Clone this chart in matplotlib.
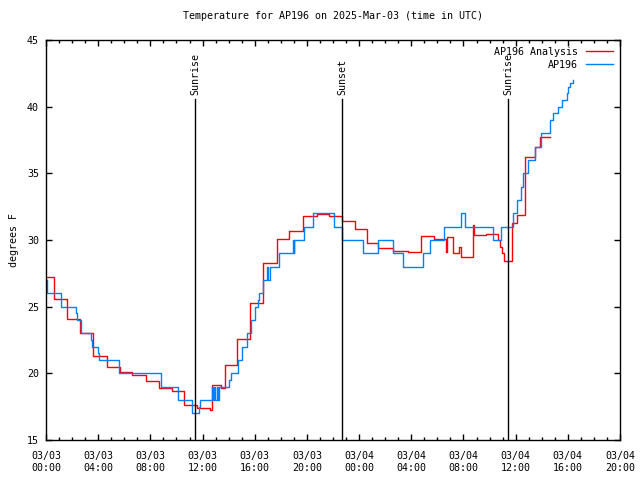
import pandas as pd
import matplotlib
matplotlib.use('Agg')
import matplotlib.pyplot as plt
import matplotlib.dates as mdates

# hours after 2025-03-03 00:00 UTC where each step begins
analysis_hours = [0.05, 0.64, 1.63, 2.63, 3.62, 4.65, 5.67, 6.61, 7.66, 8.66,
                  9.68, 10.6, 11.55, 12.6, 12.74, 13.43, 13.72, 14.66, 15.66, 16.65,
                  17.72, 18.64, 19.72, 20.74, 21.71, 22.66, 23.65, 24.62, 25.42, 26.61,
                  27.72, 28.71, 29.73, 30.65, 30.75, 31.21, 31.67, 31.78, 32.7, 32.8,
                  33.72, 34.66, 34.8, 34.95, 35.1, 35.69, 35.74, 36.07, 36.68, 37.52,
                  37.85, 38.67]
analysis_temp = [27.2, 25.55, 24.1, 23.0, 21.3, 20.5, 20.1, 19.9, 19.4, 18.9,
                 18.65, 17.6, 17.4, 17.25, 19.1, 18.9, 20.6, 22.6, 25.25, 28.3,
                 30.1, 30.7, 31.8, 31.95, 31.8, 31.4, 30.8, 29.75, 29.4, 29.2,
                 29.1, 30.3, 30.05, 29.1, 30.2, 29.05, 29.5, 28.75, 31.1, 30.4,
                 30.45, 30.0, 29.5, 29.0, 28.4, 30.0, 31.3, 31.9, 36.2, 37.0,
                 37.7, 37.7]

station_hours = [0.05, 0.11, 1.13, 2.28, 2.35, 2.66, 3.43, 3.52, 3.95, 4.04,
                 5.62, 8.79, 10.14, 11.16, 11.7, 11.8, 12.7, 12.8, 12.87, 12.99,
                 13.07, 13.18, 13.26, 14.02, 14.18, 14.74, 15.0, 15.38, 15.69, 16.02,
                 16.25, 16.36, 16.61, 16.95, 17.05, 17.16, 17.88, 18.95, 19.0, 19.03,
                 19.79, 20.48, 22.09, 22.66, 24.31, 25.42, 26.57, 27.38, 28.87, 29.43,
                 30.52, 31.78, 32.11, 34.23, 34.87, 35.76, 36.14, 36.4, 36.57, 36.95,
                 37.52, 37.91, 38.62, 38.9, 39.26, 39.55, 39.9, 40.05, 40.2, 40.36,
                 40.42]
station_temp = [27.0, 26.0, 25.0, 24.5, 24.0, 23.0, 22.5, 22.0, 21.5, 21.0,
                20.0, 19.0, 18.0, 17.0, 17.5, 18.0, 19.0, 18.0, 19.0, 18.0,
                19.0, 18.0, 19.0, 19.5, 20.0, 21.0, 22.0, 23.0, 24.0, 25.0,
                25.5, 26.0, 27.0, 28.0, 27.0, 28.0, 29.0, 30.0, 29.0, 30.0,
                31.0, 32.0, 31.0, 30.0, 29.0, 30.0, 29.0, 28.0, 29.0, 30.0,
                31.0, 32.0, 31.0, 30.0, 31.0, 32.0, 33.0, 34.0, 35.0, 36.0,
                37.0, 38.0, 39.0, 39.5, 40.0, 40.5, 41.0, 41.5, 41.8, 42.0,
                42.0]

sun_hours = [11.44, 22.71, 35.43]
sun_labels = ['Sunrise', 'Sunset', 'Sunrise']

base = pd.Timestamp('2025-03-03 00:00')


def to_time(hours):
    return base + pd.to_timedelta(hours, unit='h')


plt.rcParams['font.family'] = 'DejaVu Sans Mono'
plt.rcParams['font.size'] = 7.2

fig = plt.figure(figsize=(6.4, 4.8), dpi=100)
ax = fig.add_axes([46 / 640, 40 / 480, 574 / 640, 400 / 480])

ax.plot(to_time(analysis_hours), analysis_temp, drawstyle='steps-post',
        color='#ff0000', lw=1.0, label='AP196 Analysis')
ax.plot(to_time(station_hours), station_temp, drawstyle='steps-post',
        color='#0080ff', lw=1.0, label='AP196')

for h, lab in zip(sun_hours, sun_labels):
    t = to_time(h)
    ax.plot([t, t], [15, 40.6], color='black', lw=1.0)
    ax.text(t, 40.85, lab, rotation=90, ha='center', va='bottom')

ax.set_xlim(to_time(0), to_time(44))
ax.set_ylim(15, 45)
ax.set_yticks(range(15, 46, 5))

ax.xaxis.set_major_locator(mdates.HourLocator(byhour=range(0, 24, 4)))
ax.xaxis.set_minor_locator(mdates.HourLocator())
ax.xaxis.set_major_formatter(mdates.DateFormatter('%m/%d\n%H:%M'))

ax.tick_params(which='both', direction='in', top=True, right=True, width=1)
ax.tick_params(which='major', length=4, pad=5)
ax.tick_params(axis='x', which='major', pad=8)
ax.tick_params(which='minor', length=2)
for spine in ax.spines.values():
    spine.set_linewidth(1)

ax.set_ylabel('degrees F', labelpad=6)
ax.set_title('Temperature for AP196 on 2025-Mar-03 (time in UTC)', pad=15, fontsize=7.2)

ax.legend(loc='upper right', frameon=False, markerfirst=False, handlelength=2.7,
          borderaxespad=0.3, labelspacing=0.3, handletextpad=0.8)

fig.savefig('out.png', dpi=100)
